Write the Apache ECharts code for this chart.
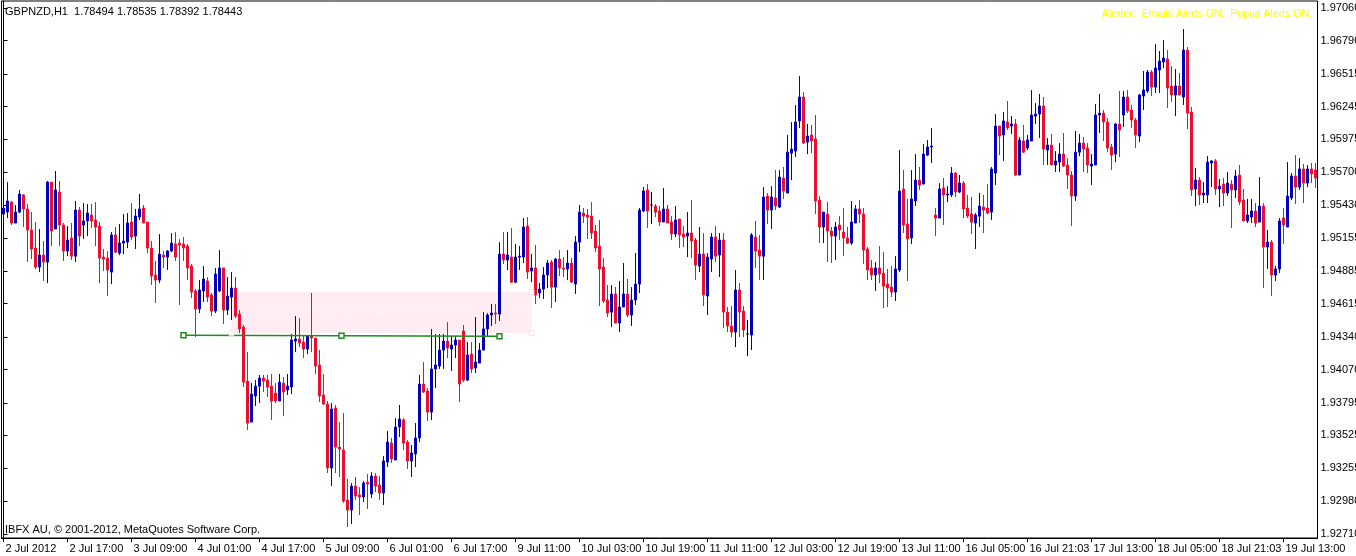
<!DOCTYPE html>
<html><head><meta charset="utf-8">
<script src="https://cdn.jsdelivr.net/npm/echarts@6.0.0/dist/echarts.min.js"></script>
<style>html,body{margin:0;padding:0;background:#fff}#c{width:1356px;height:556px}</style>
</head><body><div id="c"></div>
<script>
// ---- tick labels ----
const xTickLabels = ['2 Jul 2012','2 Jul 17:00','3 Jul 09:00','4 Jul 01:00','4 Jul 17:00','5 Jul 09:00','6 Jul 01:00','6 Jul 17:00','9 Jul 11:00','10 Jul 03:00','10 Jul 19:00','11 Jul 11:00','12 Jul 03:00','12 Jul 19:00','13 Jul 11:00','16 Jul 05:00','16 Jul 21:03','17 Jul 13:00','18 Jul 05:00','18 Jul 21:03','19 Jul 13:00'];
const yTickLabels = ['1.97060','1.96790','1.96515','1.96245','1.95975','1.95700','1.95430','1.95155','1.94885','1.94615','1.94340','1.94070','1.93795','1.93525','1.93255','1.92980','1.92710'];

// ---- H1 bars (GBPNZD) ----
const opens = [
1.95356,1.95372,1.95455,1.95282,1.95372,1.95514,1.95398,1.95224,1.95075,1.94918,1.95017,1.94959,1.95620,1.95233,1.95538,1.95266,
1.95050,1.95158,1.95008,1.95389,1.95266,1.95299,1.95348,1.95307,1.95257,1.95000,1.94992,1.94876,1.95183,1.95033,1.95116,1.95124,
1.95290,1.95174,1.95331,1.95406,1.95290,1.95075,1.94852,1.94810,1.95017,1.95000,1.95050,1.95108,1.95116,1.95108,1.95091,1.94926,
1.94720,1.94571,1.94720,1.94802,1.94687,1.94554,1.94720,1.94910,1.94562,1.94670,1.94744,1.94529,1.94422,1.93975,1.93636,1.93851,
1.93933,1.94000,1.93983,1.93933,1.93876,1.93810,1.93958,1.93901,1.93925,1.94306,1.94323,1.94297,1.94240,1.94347,1.94331,1.94108,
1.93860,1.93785,1.93256,1.93752,1.93429,1.93405,1.92991,1.92908,1.93106,1.93033,1.93016,1.93139,1.93041,1.93189,1.93115,1.93049,
1.93305,1.93462,1.93322,1.93595,1.93653,1.93470,1.93314,1.93372,1.93504,1.93950,1.93893,1.93718,1.94075,1.94099,1.94231,1.94306,
1.94240,1.94273,1.94314,1.94389,1.93983,1.94198,1.94083,1.94124,1.94231,1.94406,1.94521,1.94537,1.94529,1.95025,1.94976,1.95000,
1.94793,1.95000,1.95000,1.95257,1.94885,1.94910,1.94703,1.94736,1.94852,1.94959,1.94752,1.94984,1.94910,1.94902,1.94951,1.94777,
1.95124,1.95364,1.95348,1.95339,1.95216,1.95091,1.94918,1.94645,1.94545,1.94695,1.94455,1.94587,1.94695,1.94521,1.94645,1.94777,
1.95381,1.95555,1.95431,1.95422,1.95381,1.95290,1.95398,1.95290,1.95191,1.95315,1.95191,1.95174,1.95199,1.95141,1.94926,1.95025,
1.94678,1.94984,1.95166,1.95017,1.95141,1.94545,1.94430,1.94380,1.94728,1.94554,1.94364,1.94356,1.95166,1.95058,1.95008,1.95505,
1.95389,1.95489,1.95414,1.95654,1.95530,1.95860,1.95877,1.96126,1.96324,1.95951,1.96010,1.95977,1.95472,1.95249,1.95356,1.95216,
1.95174,1.95266,1.95207,1.95158,1.95116,1.95282,1.95398,1.95356,1.95067,1.94910,1.94852,1.94910,1.94868,1.94777,1.94752,1.94711,
1.94893,1.95563,1.95274,1.95158,1.95464,1.95637,1.95604,1.95844,1.95910,1.95348,1.95323,1.95571,1.95514,1.95514,1.95695,1.95538,
1.95612,1.95406,1.95356,1.95282,1.95339,1.95414,1.95406,1.95372,1.95695,1.96084,1.96010,1.96117,1.96084,1.96101,1.95679,1.95960,
1.95902,1.95960,1.96166,1.96183,1.96250,1.95885,1.95927,1.95762,1.95786,1.95852,1.95762,1.95679,1.95505,1.95868,1.95943,1.95902,
1.95753,1.95762,1.96175,1.96191,1.96117,1.95910,1.95852,1.96101,1.96175,1.96324,1.96216,1.96134,1.96001,1.96332,1.96374,1.96530,
1.96406,1.96547,1.96613,1.96638,1.96415,1.96341,1.96415,1.96324,1.96712,1.96200,1.95563,1.95637,1.95514,1.95514,1.95778,1.95795,
1.95563,1.95604,1.95530,1.95604,1.95555,1.95679,1.95472,1.95299,1.95331,1.95381,1.95290,1.95422,1.95083,1.95124,1.94852,1.94902,
1.95323,1.95249,1.95489,1.95670,1.95579,1.95729,1.95612,1.95729,1.95720];
const closes = [
1.95406,1.95464,1.95282,1.95372,1.95522,1.95398,1.95224,1.95067,1.94918,1.95017,1.94959,1.95620,1.95216,1.95555,1.95266,1.95050,
1.95141,1.95008,1.95389,1.95174,1.95299,1.95364,1.95299,1.95249,1.94992,1.94984,1.94893,1.95183,1.95041,1.95116,1.95133,1.95282,
1.95166,1.95339,1.95398,1.95282,1.95075,1.94843,1.94810,1.95025,1.95000,1.95050,1.95116,1.95000,1.95100,1.95075,1.94910,1.94711,
1.94571,1.94728,1.94819,1.94670,1.94554,1.94860,1.94910,1.94562,1.94678,1.94744,1.94512,1.94406,1.93966,1.93628,1.93868,1.93933,
1.94000,1.93975,1.93925,1.93810,1.93810,1.93966,1.93884,1.93933,1.94314,1.94323,1.94289,1.94240,1.94347,1.94331,1.94099,1.93851,
1.93785,1.93256,1.93744,1.93429,1.93413,1.92983,1.92908,1.93106,1.93024,1.93016,1.93131,1.93123,1.93189,1.93106,1.93049,1.93314,
1.93470,1.93331,1.93595,1.93661,1.93462,1.93314,1.93380,1.93504,1.93950,1.93884,1.93718,1.94075,1.94108,1.94231,1.94306,1.94248,
1.94273,1.94314,1.93950,1.93983,1.94190,1.94075,1.94132,1.94231,1.94406,1.94521,1.94537,1.94529,1.95025,1.94976,1.95017,1.94793,
1.95000,1.95008,1.95249,1.94876,1.94910,1.94687,1.94736,1.94852,1.94951,1.94752,1.94984,1.94910,1.94902,1.94951,1.94793,1.95124,
1.95372,1.95339,1.95331,1.95199,1.95075,1.94902,1.94637,1.94537,1.94695,1.94455,1.94587,1.94695,1.94521,1.94645,1.94777,1.95389,
1.95547,1.95381,1.95431,1.95372,1.95290,1.95398,1.95282,1.95191,1.95307,1.95183,1.95166,1.95199,1.95133,1.94935,1.95025,1.94687,
1.95000,1.95166,1.95008,1.95141,1.94545,1.94430,1.94380,1.94728,1.94545,1.94397,1.94364,1.95183,1.95050,1.95008,1.95497,1.95389,
1.95497,1.95422,1.95662,1.95547,1.95868,1.95894,1.96117,1.96324,1.95943,1.96001,1.95960,1.95464,1.95249,1.95372,1.95216,1.95174,
1.95249,1.95224,1.95158,1.95116,1.95290,1.95398,1.95356,1.95058,1.94893,1.94852,1.94910,1.94860,1.94760,1.94744,1.94711,1.94902,
1.95547,1.95266,1.95150,1.95481,1.95637,1.95596,1.95852,1.95910,1.95918,1.95323,1.95563,1.95514,1.95522,1.95695,1.95538,1.95612,
1.95398,1.95339,1.95290,1.95348,1.95422,1.95389,1.95364,1.95729,1.96084,1.96001,1.96126,1.96068,1.96101,1.95679,1.95968,1.95868,
1.95968,1.96175,1.96183,1.96250,1.95894,1.95927,1.95762,1.95795,1.95852,1.95753,1.95679,1.95505,1.95868,1.95943,1.95894,1.95762,
1.95770,1.96175,1.96191,1.96117,1.95902,1.95844,1.96101,1.96051,1.96324,1.96208,1.96134,1.96010,1.96341,1.96382,1.96530,1.96406,
1.96564,1.96622,1.96646,1.96398,1.96341,1.96415,1.96341,1.96712,1.96191,1.95555,1.95637,1.95514,1.95530,1.95786,1.95795,1.95563,
1.95587,1.95530,1.95612,1.95555,1.95670,1.95455,1.95299,1.95348,1.95381,1.95282,1.95422,1.95083,1.95124,1.94852,1.94902,1.95299,
1.95266,1.95505,1.95670,1.95579,1.95729,1.95612,1.95729,1.95687,1.95654];
const highs = [
1.95422,1.95620,1.95464,1.95431,1.95555,1.95522,1.95439,1.95372,1.95290,1.95233,1.95133,1.95629,1.95620,1.95712,1.95629,1.95282,
1.95257,1.95282,1.95464,1.95414,1.95447,1.95439,1.95439,1.95455,1.95290,1.95067,1.95050,1.95207,1.95249,1.95274,1.95356,1.95364,
1.95447,1.95398,1.95522,1.95431,1.95290,1.95133,1.94968,1.95191,1.95050,1.95058,1.95199,1.95207,1.95150,1.95166,1.95108,1.94943,
1.94736,1.94810,1.94926,1.94835,1.94703,1.94910,1.95058,1.94910,1.94835,1.94876,1.94835,1.94562,1.94439,1.94214,1.93958,1.93983,
1.94025,1.94025,1.94025,1.94033,1.93958,1.94033,1.94008,1.94033,1.94364,1.94512,1.94496,1.94356,1.94356,1.94703,1.94331,1.94231,
1.94033,1.93810,1.93793,1.93777,1.93636,1.93710,1.93165,1.93131,1.93181,1.93098,1.93148,1.93206,1.93222,1.93214,1.93189,1.93355,
1.93562,1.93504,1.93669,1.93777,1.93669,1.93487,1.93446,1.93628,1.94025,1.94132,1.93917,1.94406,1.94364,1.94364,1.94364,1.94463,
1.94347,1.94347,1.94314,1.94439,1.94297,1.94297,1.94504,1.94289,1.94545,1.94537,1.94612,1.94612,1.95124,1.95207,1.95207,1.95241,
1.95108,1.95091,1.95323,1.95331,1.95025,1.95100,1.94785,1.94918,1.94976,1.94976,1.94992,1.95058,1.95000,1.95058,1.94992,1.95174,
1.95431,1.95406,1.95398,1.95455,1.95266,1.95307,1.94992,1.94769,1.94769,1.94752,1.94802,1.94951,1.94819,1.94752,1.95033,1.95406,
1.95579,1.95604,1.95538,1.95439,1.95422,1.95571,1.95431,1.95339,1.95422,1.95315,1.95257,1.95372,1.95472,1.95158,1.95249,1.95199,
1.95033,1.95199,1.95257,1.95199,1.95199,1.94587,1.94595,1.94893,1.94785,1.94595,1.94480,1.95199,1.95299,1.95183,1.95579,1.95530,
1.95587,1.95720,1.95720,1.95745,1.96010,1.96117,1.96258,1.96497,1.96365,1.96101,1.96093,1.96175,1.95505,1.95372,1.95455,1.95249,
1.95290,1.95339,1.95406,1.95249,1.95464,1.95431,1.95472,1.95406,1.95083,1.94976,1.94959,1.95091,1.95041,1.94902,1.94926,1.95008,
1.95885,1.95720,1.95481,1.95720,1.95852,1.95745,1.95935,1.95968,1.96068,1.95406,1.95612,1.95654,1.95587,1.95745,1.95703,1.95679,
1.95629,1.95514,1.95497,1.95364,1.95530,1.95514,1.95604,1.95745,1.96183,1.96084,1.96200,1.96291,1.96166,1.96142,1.95993,1.96093,
1.96010,1.96382,1.96274,1.96349,1.96324,1.95985,1.96018,1.95877,1.95943,1.96026,1.95819,1.95712,1.96043,1.96018,1.95993,1.95943,
1.95852,1.96266,1.96349,1.96216,1.96150,1.95935,1.96109,1.96374,1.96374,1.96382,1.96258,1.96150,1.96349,1.96539,1.96547,1.96547,
1.96762,1.96704,1.96795,1.96712,1.96580,1.96555,1.96522,1.96886,1.96737,1.96241,1.95737,1.95662,1.95620,1.95835,1.95803,1.95811,
1.95646,1.95654,1.95703,1.95637,1.95720,1.95762,1.95563,1.95481,1.95481,1.95447,1.95662,1.95447,1.95224,1.95141,1.94926,1.95323,
1.95406,1.95786,1.95695,1.95844,1.95819,1.95770,1.95762,1.95778,1.95778];
const lows = [
1.95266,1.95323,1.95266,1.95282,1.95364,1.95249,1.94959,1.94984,1.94902,1.94876,1.94802,1.94785,1.95091,1.95233,1.95091,1.94968,
1.95008,1.94976,1.94959,1.95091,1.95150,1.95174,1.95241,1.95091,1.94785,1.94885,1.94678,1.94777,1.95033,1.95017,1.95025,1.95075,
1.95141,1.95067,1.95307,1.95282,1.95033,1.94769,1.94620,1.94785,1.94910,1.94893,1.95041,1.94968,1.94604,1.94968,1.94810,1.94662,
1.94339,1.94537,1.94628,1.94628,1.94512,1.94537,1.94711,1.94447,1.94521,1.94480,1.94496,1.94372,1.93925,1.93570,1.93636,1.93768,
1.93793,1.93884,1.93843,1.93653,1.93793,1.93810,1.93685,1.93860,1.93868,1.94214,1.94256,1.94165,1.94198,1.94214,1.94033,1.93801,
1.93777,1.93214,1.93106,1.93214,1.93181,1.92966,1.92768,1.92793,1.92991,1.92867,1.92974,1.92917,1.93008,1.93057,1.92991,1.92950,
1.93264,1.93297,1.93322,1.93512,1.93405,1.93248,1.93181,1.93264,1.93470,1.93876,1.93645,1.93653,1.93917,1.94075,1.94075,1.94165,
1.94058,1.94165,1.93801,1.93966,1.93975,1.94041,1.94041,1.94124,1.94231,1.94339,1.94430,1.94447,1.94472,1.94943,1.94893,1.94785,
1.94785,1.94893,1.94951,1.94819,1.94793,1.94612,1.94662,1.94654,1.94744,1.94579,1.94628,1.94843,1.94835,1.94810,1.94785,1.94695,
1.95041,1.95282,1.95150,1.95150,1.95041,1.94595,1.94620,1.94504,1.94422,1.94455,1.94380,1.94587,1.94504,1.94430,1.94604,1.94703,
1.95372,1.95241,1.95274,1.95331,1.95257,1.95290,1.95282,1.95141,1.95166,1.95075,1.95083,1.95000,1.94992,1.94810,1.94876,1.94595,
1.94521,1.94876,1.94959,1.94835,1.94414,1.94380,1.94339,1.94256,1.94339,1.94339,1.94181,1.94231,1.94910,1.94810,1.94810,1.95274,
1.95233,1.95389,1.95406,1.95481,1.95530,1.95637,1.95827,1.96068,1.95935,1.95852,1.95860,1.95356,1.95116,1.95116,1.94959,1.94951,
1.94976,1.95141,1.95008,1.95108,1.95100,1.95282,1.95282,1.94943,1.94810,1.94810,1.94720,1.94785,1.94579,1.94587,1.94670,1.94637,
1.94876,1.95199,1.94802,1.95108,1.95422,1.95555,1.95604,1.95835,1.95778,1.95174,1.95323,1.95266,1.95455,1.95497,1.95497,1.95530,
1.95323,1.95323,1.95191,1.95067,1.95249,1.95199,1.95356,1.95307,1.95596,1.95844,1.95795,1.96051,1.96018,1.95670,1.95679,1.95860,
1.95885,1.95960,1.96101,1.95985,1.95762,1.95762,1.95762,1.95704,1.95704,1.95745,1.95563,1.95257,1.95464,1.95835,1.95704,1.95695,
1.95596,1.95762,1.96026,1.95960,1.95868,1.95720,1.95786,1.95827,1.96076,1.96191,1.96068,1.95902,1.95951,1.96216,1.96357,1.96332,
1.96357,1.96357,1.96564,1.96233,1.96283,1.96166,1.96341,1.96258,1.96059,1.95505,1.95422,1.95431,1.95447,1.95447,1.95579,1.95514,
1.95414,1.95422,1.95505,1.95241,1.95489,1.95431,1.95299,1.95282,1.95282,1.95249,1.95290,1.94744,1.94902,1.94678,1.94802,1.94868,
1.95108,1.95249,1.95472,1.95439,1.95555,1.95447,1.95579,1.95612,1.95571];

// ---- chart objects (bar index, price) ----
const trendLine = [[45, 1.94353], [84.5, 1.94349], [124, 1.94345]];
const zoneRect = [[57, 1.94711], [132, 1.94372]];
const zoneAnchors = [[132, 1.94711], [132, 1.94372], [57, 1.94372]];
const zoneCenter = [[94.5, 1.94541]];

const N = opens.length;
const categories = opens.map((_, i) => i % 16 === 0 ? xTickLabels[i / 16] : 'bar' + i);
const candleData = opens.map((o, i) => [o, closes[i], lows[i], highs[i]]);
const yTickValues = yTickLabels.map(Number);

const BLUE = '#0000b8', RED = '#e8102e', GREEN = '#1e8c1e';
const AXFONT = "'Liberation Sans Narrow','Liberation Sans',sans-serif";
const every16 = (idx) => idx % 16 === 0;

const chart = echarts.init(document.getElementById('c'), null, {renderer: 'canvas'});
chart.setOption({
  animation: false,
  backgroundColor: '#ffffff',
  grid: {left: 1.5, top: 1, width: 1316, height: 537, show: true, borderColor: '#000', borderWidth: 1,
         containLabel: false, outerBoundsMode: 'none'},
  xAxis: [{
    type: 'category', data: categories, boundaryGap: true, position: 'bottom',
    axisLine: {show: true, lineStyle: {color: '#000', width: 1}},
    axisTick: {show: true, interval: every16, alignWithLabel: true, length: 4, lineStyle: {color: '#000'}},
    axisLabel: {interval: every16, align: 'left', margin: 5, padding: [0, 0, 0, 2], color: '#000',
                fontSize: 11, fontFamily: AXFONT, hideOverlap: false},
    splitLine: {show: false}
  }, {
    type: 'value', min: -0.5, max: N - 0.5, show: false
  }],
  yAxis: [{
    type: 'value', position: 'right', min: 1.92677, max: 1.97118, scale: true,
    axisLine: {show: true, lineStyle: {color: '#000', width: 1}},
    axisTick: {show: true, length: 4, customValues: yTickValues, lineStyle: {color: '#000'}},
    axisLabel: {customValues: yTickValues, margin: 3, color: '#000', fontSize: 11, fontFamily: AXFONT,
                formatter: (v) => v.toFixed(5)},
    splitLine: {show: false}
  }],
  series: [{
    type: 'line', xAxisIndex: 1, yAxisIndex: 0, data: [], z: 1, silent: true,
    markArea: {silent: true, itemStyle: {color: '#ffedf3'},
      data: [[{coord: zoneRect[0]}, {coord: zoneRect[1]}]]}
  }, {
    type: 'candlestick', xAxisIndex: 0, yAxisIndex: 0, data: candleData, z: 2,
    barWidth: 2,
    itemStyle: {color: BLUE, color0: RED, borderColor: BLUE, borderColor0: RED, borderColorDoji: '#000', borderWidth: 1}
  }, {
    type: 'line', xAxisIndex: 1, yAxisIndex: 0, data: trendLine, z: 3,
    symbol: 'rect', symbolSize: 5, showAllSymbol: true,
    lineStyle: {color: GREEN, width: 1.5},
    itemStyle: {color: '#ffffff', borderColor: GREEN, borderWidth: 1.5}
  }, {
    type: 'scatter', xAxisIndex: 1, yAxisIndex: 0, data: zoneAnchors, z: 3,
    symbol: 'rect', symbolSize: 5,
    itemStyle: {color: '#ffffff', borderColor: '#f4dce6', borderWidth: 1}
  }, {
    type: 'scatter', xAxisIndex: 1, yAxisIndex: 0, data: zoneCenter, z: 3,
    symbol: 'rect', symbolSize: 3, itemStyle: {color: '#ffffff'}
  }],
  graphic: [
    {type: 'text', left: 5, top: 6, style: {text: 'GBPNZD,H1  1.78494 1.78535 1.78392 1.78443', fill: '#000', font: "11px 'Liberation Sans Narrow', 'Liberation Sans', sans-serif"}},
    {type: 'text', right: 44, top: 9, style: {text: 'Alerter:  Emails Alerts ON.  Popup Alerts ON.', fill: '#ffff00', font: "10.5px 'Liberation Sans', sans-serif"}},
    {type: 'text', left: 5, top: 524, style: {text: 'IBFX AU, \u00a9 2001-2012, MetaQuotes Software Corp.', fill: '#000', font: "11px 'Liberation Sans', sans-serif"}}
  ]
});
</script>
</body></html>
